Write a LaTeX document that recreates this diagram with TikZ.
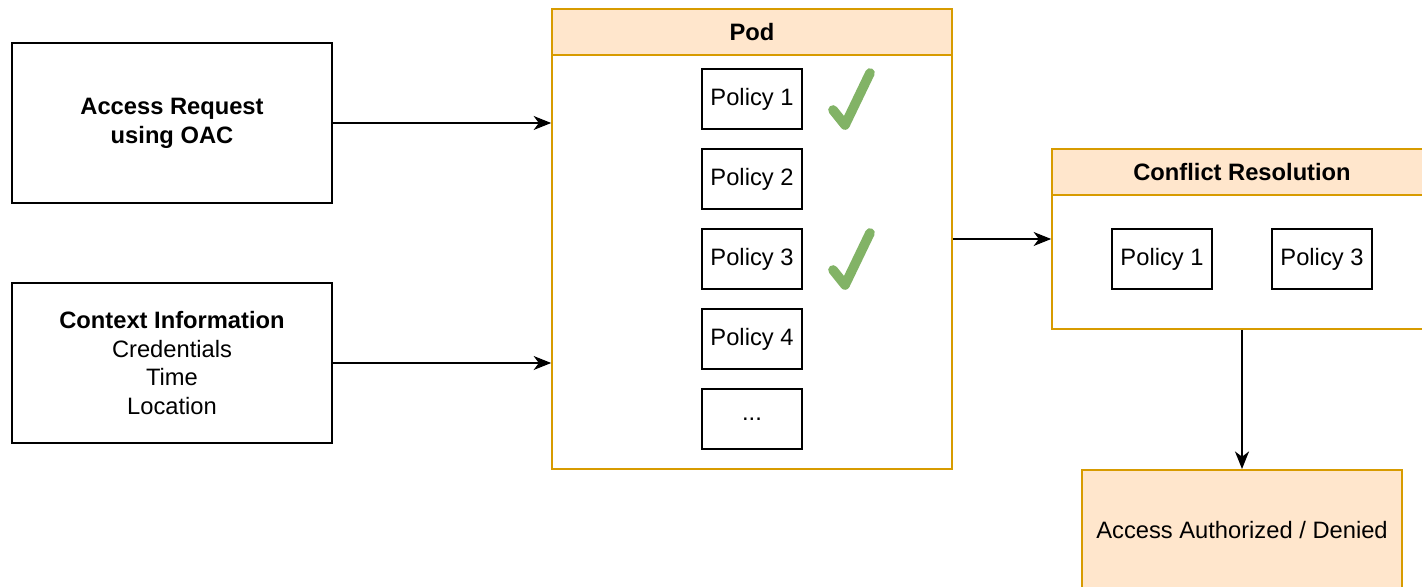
\documentclass[tikz,border=0pt]{standalone}
\usepackage{fontspec}
\setmainfont{Liberation Sans}
\usetikzlibrary{positioning, arrows.meta}
\definecolor{podfill}{HTML}{FFE6CC}
\definecolor{podline}{HTML}{D79B00}
\definecolor{tickgreen}{HTML}{82B366}

\begin{document}
\begin{tikzpicture}[x=0.02cm,y=-0.02cm,node distance=1.6cm,on grid,
    every node/.style={font=\fontsize{13.5}{16.4}\selectfont},
    box/.style={draw,line width=1pt,minimum width=6.4cm,minimum height=3.2cm,align=center},
    policy/.style={draw,line width=1pt,minimum width=2cm,minimum height=1.2cm},
    frame/.style={draw=podline,line width=1pt,fill=white},
    header/.style={draw=podline,line width=1pt,fill=podfill,minimum height=0.92cm,
      font=\fontsize{13.5}{16.4}\selectfont\bfseries},
    tick/.style={draw=tickgreen,line width=5.5pt,line cap=round,line join=round},
    arr/.style={-{Stealth[length=10pt,width=8pt,inset=3pt]},line width=0.8pt}]
  \useasboundingbox (0,0) rectangle (1422,587);
  \clip (0,0) rectangle (1422,587);
  % Inputs
  \node[box] (req) at (172,123) {\textbf{Access Request}\\\textbf{using OAC}};
  \node[box] (ctx) at (172,363) {\textbf{Context Information}\\Credentials\\Time\\Location};
  % Pod with its policies
  \node[frame,minimum width=8cm,minimum height=9.2cm] (pod) at (752,239) {};
  \node[header,minimum width=8cm,anchor=north] (podhead) at (pod.north) {Pod};
  \node[policy] (p1) at (752,99) {Policy 1};
  \node[policy] (p2) [below=of p1] {Policy 2};
  \node[policy] (p3) [below=of p2] {Policy 3};
  \node[policy] (p4) [below=of p3] {Policy 4};
  \node[policy] (p5) [below=of p4] {...};
  % Ticks
  \draw[tick] ([shift={(81,11)}]p1.center) -- ([shift={(93,26)}]p1.center)
    -- ([shift={(118,-26)}]p1.center);
  \draw[tick] ([shift={(81,11)}]p3.center) -- ([shift={(93,26)}]p3.center)
    -- ([shift={(118,-26)}]p3.center);
  % Conflict resolution
  \node[frame,minimum width=7.6cm,minimum height=3.6cm] (cr) at (1242,239) {};
  \node[header,minimum width=7.6cm,anchor=north] (crhead) at (cr.north) {Conflict Resolution};
  \node[policy] (cr1) at (1162,259) {Policy 1};
  \node[policy] (cr3) [right=3.2cm of cr1] {Policy 3};
  % Result
  \node[draw=podline,fill=podfill,line width=1pt,minimum width=6.4cm,minimum height=2.4cm,
    anchor=north] (res) at (1242,469) {Access Authorized / Denied};
  % Connectors
  \draw[arr] (req.east) -- (req.east -| pod.west);
  \draw[arr] (ctx.east) -- (ctx.east -| pod.west);
  \draw[arr] (pod.east) -- (cr.west);
  \draw[arr] (cr.south) -- (res.north);
\end{tikzpicture}
\end{document}
